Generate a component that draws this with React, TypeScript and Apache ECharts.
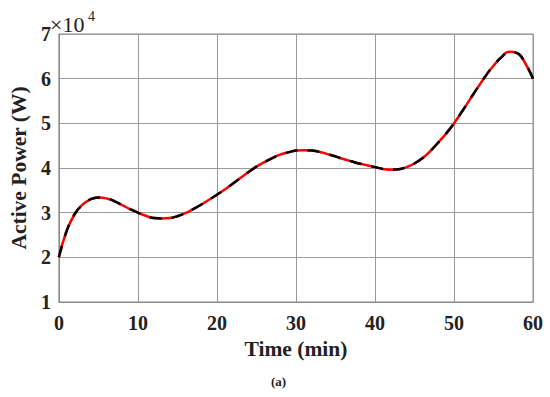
import React, { useEffect, useRef } from "react";
import * as echarts from "echarts";

const times: number[] = [
  0, 1, 2, 3, 4, 5, 6, 7, 8, 9, 10, 11, 12, 13, 14, 15, 16, 17, 18, 19, 20,
  21, 22, 23, 24, 25, 26, 27, 28, 29, 30, 31, 32, 33, 34, 35, 36, 37, 38, 39, 40,
  41, 42, 43, 44, 45, 46, 47, 48, 49, 50, 51, 52, 53, 54, 55, 56, 57, 58, 59, 60,
];
const powerValues: number[] = [
  2.0, 2.6, 2.97, 3.18, 3.3, 3.34, 3.32, 3.26, 3.17, 3.08, 3.0,
  2.93, 2.88, 2.87, 2.88, 2.92, 2.99, 3.08, 3.18, 3.29, 3.4,
  3.52, 3.65, 3.78, 3.91, 4.03, 4.13, 4.22, 4.3, 4.35, 4.39,
  4.4, 4.39, 4.36, 4.31, 4.26, 4.2, 4.15, 4.1, 4.06, 4.02,
  3.98, 3.96, 3.97, 4.02, 4.1, 4.22, 4.38, 4.57, 4.77, 5.0,
  5.26, 5.53, 5.8, 6.06, 6.29, 6.48, 6.6, 6.57, 6.35, 6.0,
];
const xTicks = { min: 0, max: 60, interval: 10 };
const yTicks = { min: 1, max: 7, interval: 1 };

const FONT = "Liberation Serif";

export default function App() {
  const ref = useRef<HTMLDivElement>(null);
  useEffect(() => {
    if (!ref.current) return;
    const chart = echarts.init(ref.current, undefined, { renderer: "svg" });
    const data = times.map((t, i) => [t, powerValues[i]]);
    chart.setOption({
      animation: false,
      backgroundColor: "#ffffff",
      title: [
        {
          text: "×10",
          left: 50,
          top: 13,
          padding: 0,
          textStyle: { fontFamily: FONT, fontSize: 22, fontWeight: "normal", color: "#222" },
        },
        {
          text: "4",
          left: 88,
          top: 9,
          padding: 0,
          textStyle: { fontFamily: FONT, fontSize: 14, fontWeight: "normal", color: "#222" },
        },
        {
          text: "(a)",
          left: 271,
          top: 375,
          padding: 0,
          textStyle: { fontFamily: FONT, fontSize: 13, fontWeight: "bold", color: "#222" },
        },
      ],
      grid: {
        left: 49,
        right: 17,
        top: 34,
        bottom: 95,
        show: true,
        borderColor: "#8a8a8a",
        borderWidth: 1,
        backgroundColor: "transparent",
      },
      xAxis: {
        type: "value",
        min: xTicks.min,
        max: xTicks.max,
        interval: xTicks.interval,
        name: "Time (min)",
        nameLocation: "middle",
        nameGap: 36,
        nameTextStyle: { fontFamily: FONT, fontWeight: "bold", fontSize: 21.5, color: "#222" },
        axisLine: { show: true, lineStyle: { color: "#8a8a8a", width: 1 } },
        axisTick: { show: false },
        axisLabel: { fontFamily: FONT, fontWeight: "bold", fontSize: 20, color: "#222", margin: 11 },
        splitLine: { show: true, lineStyle: { color: "#9a9a9a", width: 1 } },
      },
      yAxis: {
        type: "value",
        min: yTicks.min,
        max: yTicks.max,
        interval: yTicks.interval,
        name: "Active Power (W)",
        nameLocation: "middle",
        nameGap: 19,
        nameRotate: 90,
        nameTextStyle: { fontFamily: FONT, fontWeight: "bold", fontSize: 21.5, color: "#222" },
        axisLine: { show: true, lineStyle: { color: "#8a8a8a", width: 1 } },
        axisTick: { show: false },
        axisLabel: { fontFamily: FONT, fontWeight: "bold", fontSize: 20, color: "#222", margin: 8 },
        splitLine: { show: true, lineStyle: { color: "#9a9a9a", width: 1 } },
      },
      series: [
        {
          type: "line",
          data,
          smooth: true,
          showSymbol: false,
          lineStyle: { color: "#ff0000", width: 2.5, type: "solid" },
          z: 2,
        },
        {
          type: "line",
          data,
          smooth: true,
          showSymbol: false,
          lineStyle: { color: "#000000", width: 2.5, type: [12, 10] },
          z: 3,
        },
      ],
    });
    return () => chart.dispose();
  }, []);
  return (
    <div
      ref={ref}
      style={{ position: "absolute", left: 0, top: 0, width: 550, height: 397 }}
    />
  );
}
